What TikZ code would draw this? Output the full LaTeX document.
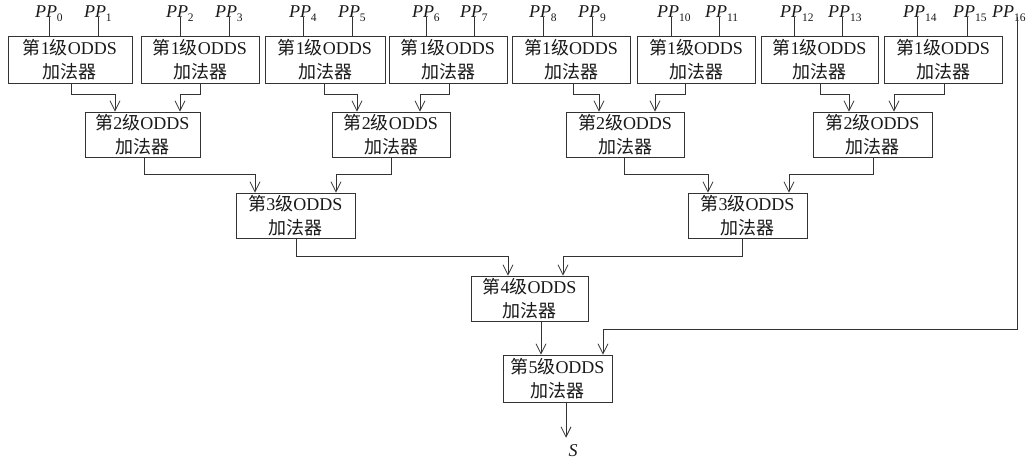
\documentclass[tikz,border=0pt]{standalone}
\usepackage{fontspec}
\setmainfont{Liberation Serif}
\newfontfamily\cjk{Noto Sans CJK SC}
\usetikzlibrary{arrows.meta}
\newcommand\lvl[1]{{\cjk 第}#1{\cjk 级}ODDS\\{\cjk 加法器}}
\newcommand\ppl[1]{\textit{PP}\rlap{\raisebox{-4pt}{\fontsize{11.5}{11.5}\selectfont #1}}}
\begin{document}
\begin{tikzpicture}[x=1pt,y=-1pt,
  box/.style={draw=black!80, line width=0.8pt, inner sep=0pt, align=center,
    font=\fontsize{18}{24.5}\selectfont, text=black!90, minimum height=45pt},
  lab/.style={anchor=base, inner sep=0pt, font=\fontsize{18}{20}\selectfont, text=black!90},
  wire/.style={draw=black!80, line width=0.8pt},
  arr/.style={wire, -{Straight Barb[length=10pt,width=10pt]}}]
\useasboundingbox (0,0) rectangle (1034,460);

% level 1
\node[box, minimum height=47pt, minimum width=124pt] (b1) at (70,59.5) {\lvl1};
\node[box, minimum height=47pt, minimum width=118pt] (b2) at (200,59.5) {\lvl1};
\node[box, minimum height=47pt, minimum width=120pt] (b3) at (325,59.5) {\lvl1};
\node[box, minimum height=47pt, minimum width=118pt] (b4) at (448,59.5) {\lvl1};
\node[box, minimum height=47pt, minimum width=118pt] (b5) at (571,59.5) {\lvl1};
\node[box, minimum height=47pt, minimum width=118pt] (b6) at (696,59.5) {\lvl1};
\node[box, minimum height=47pt, minimum width=117pt] (b7) at (819.5,59.5) {\lvl1};
\node[box, minimum height=47pt, minimum width=118pt] (b8) at (943,59.5) {\lvl1};

% level 2
\node[box, minimum width=115pt] (c2a) at (142.5,134.5) {\lvl2};
\node[box, minimum width=118pt] (c2b) at (391,134.5) {\lvl2};
\node[box, minimum width=118pt] (c2c) at (625,134.5) {\lvl2};
\node[box, minimum width=119pt] (c2d) at (872.5,134.5) {\lvl2};

% level 3
\node[box, minimum width=119pt] (c3a) at (295.5,215.5) {\lvl3};
\node[box, minimum width=119pt] (c3b) at (747.5,215.5) {\lvl3};

% level 4, 5
\node[box, minimum width=117pt] (c4) at (529.5,298.5) {\lvl4};
\node[box, minimum width=109pt, minimum height=47pt] (c5) at (557.5,378.5) {\lvl5};

% inputs
\foreach \i/\x/\b in {0/49/b1,1/98/b1,2/180/b2,3/229/b2,4/303/b3,5/352/b3,6/426/b4,7/474/b4,
  8/543/b5,9/592/b5,10/671/b6,11/719/b6,12/794/b7,13/842/b7,14/917/b8,15/967/b8}{
  \node[lab] (p\i) at (\x-3,17.5) {\ppl{\i}};
  \draw[wire] ([xshift=3pt]p\i.base) -- ++(0,18.5);
}
\node[lab] (p16) at (1003,17.5) {\ppl{16}};

% level 1 -> level 2
\draw[arr] ([xshift=1pt]b1.south) -- ++(0,11) -| ([xshift=-27.5pt]c2a.north);
\draw[arr] (b2.south) -- ++(0,11) -| ([xshift=37.5pt]c2a.north);
\draw[arr] ([xshift=-1pt]b3.south) -- ++(0,11) -| ([xshift=-34pt]c2b.north);
\draw[arr] ([xshift=1pt]b4.south) -- ++(0,11) -| ([xshift=29pt]c2b.north);
\draw[arr] ([xshift=2pt]b5.south) -- ++(0,11) -| ([xshift=-26pt]c2c.north);
\draw[arr] ([xshift=-11pt]b6.south) -- ++(0,11) -| ([xshift=30pt]c2c.north);
\draw[arr] ([xshift=0.5pt]b7.south) -- ++(0,11) -| ([xshift=-23.5pt]c2d.north);
\draw[arr] ([xshift=1pt]b8.south) -- ++(0,11) -| ([xshift=21.5pt]c2d.north);

% level 2 -> level 3
\draw[arr] ([xshift=1.5pt]c2a.south) -- ++(0,17) -| ([xshift=-40.5pt]c3a.north);
\draw[arr] (c2b.south) -- ++(0,17) -| ([xshift=40.5pt]c3a.north);
\draw[arr] ([xshift=-1pt]c2c.south) -- ++(0,17) -| ([xshift=-39.5pt]c3b.north);
\draw[arr] ([xshift=0.5pt]c2d.south) -- ++(0,17) -| ([xshift=41.5pt]c3b.north);

% level 3 -> level 4
\draw[arr] ([xshift=0.5pt]c3a.south) -- ++(0,18) -| ([xshift=-21.5pt]c4.north);
\draw[arr] ([xshift=-5.5pt]c3b.south) -- ++(0,18) -| ([xshift=33.5pt]c4.north);

% level 4 -> level 5
\draw[arr] ([xshift=11.5pt]c4.south) -- ([xshift=-16.5pt]c5.north);
\draw[arr] ([xshift=14pt]p16.base) -- ++(0,311.5) -| ([xshift=45.5pt]c5.north);

% output
\node[inner sep=0pt, font=\fontsize{18}{20}\selectfont\itshape, text=black!90] (S) at (573,451) {S};
\draw[arr, shorten >=7pt] ([xshift=8.5pt]c5.south) -- ([xshift=-7pt]S.north);
\end{tikzpicture}
\end{document}
